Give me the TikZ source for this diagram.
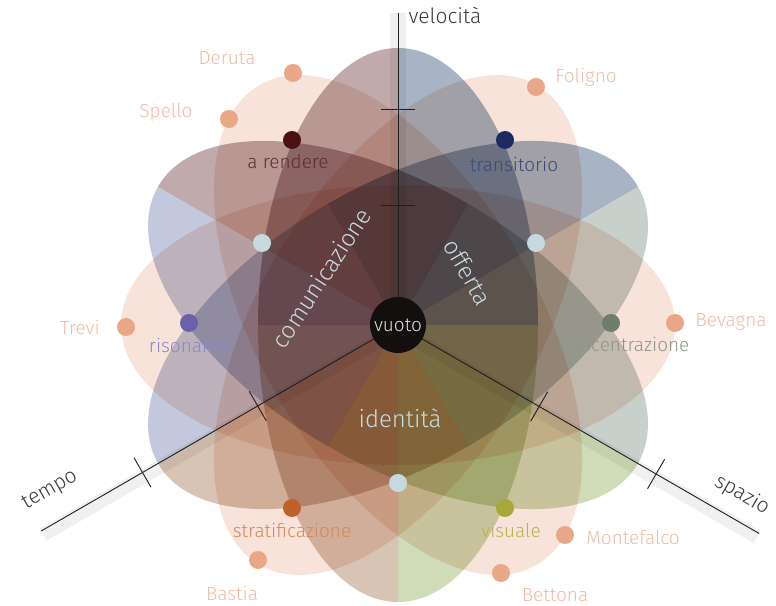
\documentclass[tikz,border=0pt]{standalone}
\usepackage{fontspec}
\setmainfont{Fira Sans}[UprightFont={* Light}]
\usetikzlibrary{calc}
\definecolor{cRend}{HTML}{C0AAAC}
\definecolor{cTrans}{HTML}{A8B4C4}
\definecolor{cRis}{HTML}{C4C8DC}
\definecolor{cConc}{HTML}{C8D0CC}
\definecolor{cStrat}{HTML}{D8C4B4}
\definecolor{cVis}{HTML}{D0DCB8}
\definecolor{cPeach}{HTML}{F7E3DA}
\definecolor{dRendC}{HTML}{4A1212}
\definecolor{dTransC}{HTML}{1C2C62}
\definecolor{dRisC}{HTML}{6A62A8}
\definecolor{dConcC}{HTML}{707C6C}
\definecolor{dStratC}{HTML}{C0602C}
\definecolor{dVisC}{HTML}{A8A838}
\definecolor{dTownC}{HTML}{E8A888}
\definecolor{dLbC}{HTML}{C4DADE}
\definecolor{tTown}{HTML}{F0BAA4}
\definecolor{tBig}{HTML}{C8DCDF}
\definecolor{tAx}{HTML}{3A3A3A}
\definecolor{tRend}{HTML}{5E2E30}
\definecolor{tTrans}{HTML}{3A4A7C}
\definecolor{tRis}{HTML}{8D88C4}
\definecolor{tConc}{HTML}{8E968C}
\definecolor{tStrat}{HTML}{D4895A}
\definecolor{tVis}{HTML}{B8B448}
\definecolor{cAxis}{HTML}{1E1E1E}
\definecolor{cVuoto}{HTML}{140F0F}
\newcommand\qtr[3]{%
  \begin{scope}[shift={(C)},rotate=#1]
    \fill[#3] (0,0) -- ({277*cos(90*#2)},{140*sin(90*#2)})
      arc[start angle={90*#2},end angle={90*#2+90},x radius=277pt,y radius=140pt] -- cycle;
  \end{scope}}
\begin{document}
\begin{tikzpicture}[x=1pt,y=1pt,
  dot/.style={circle,inner sep=0pt,minimum size=18pt},
  town/.style={text=tTown,font=\fontsize{19}{19}\selectfont},
  lab/.style={font=\fontsize{19}{19}\selectfont},
  bigtxt/.style={text=tBig,font=\fontsize{24}{24}\selectfont},
  axtxt/.style={text=tAx,font=\fontsize{21}{21}\selectfont},
  axisline/.style={draw=cAxis,line width=0.9pt},
  band/.style={fill=black,fill opacity=0.06},
  ticksty/.style={draw=cAxis,line width=0.9pt}]
\useasboundingbox (0,0) rectangle (776,605);
\coordinate (C) at (398,280);
\begin{scope}[blend mode=multiply]
% peach ellipses
\foreach \a in {0,60,120}{
  \begin{scope}[shift={(C)},rotate=\a]
    \fill[cPeach] (0,0) ellipse [x radius=277pt,y radius=140pt];
  \end{scope}}
% coloured quarter ellipses
\qtr{90}{0}{cRend}\qtr{90}{1}{cStrat}\qtr{90}{2}{cVis}\qtr{90}{3}{cTrans}
\qtr{30}{0}{cTrans}\qtr{30}{1}{cRis}\qtr{30}{2}{cStrat}\qtr{30}{3}{cConc}
\qtr{150}{0}{cRis}\qtr{150}{1}{cVis}\qtr{150}{2}{cConc}\qtr{150}{3}{cRend}
\end{scope}
% axes
\coordinate (vEnd) at ($(C)+(90:312)$);
\coordinate (tEnd) at ($(C)+(210:412)$);
\coordinate (sEnd) at ($(C)+(-30:417)$);
\begin{scope}[shift={(C)},rotate=90]
  \fill[band] (0,-8) rectangle (312,8);
  \draw[ticksty] (120,-17) -- (120,17);
  \draw[ticksty] (216,-17) -- (216,17);
\end{scope}
\begin{scope}[shift={(C)},rotate=210]
  \fill[band] (0,-3) rectangle (412,11);
  \draw[ticksty] (162,-17) -- (162,17);
  \draw[ticksty] (295,-17) -- (295,17);
\end{scope}
\begin{scope}[shift={(C)},rotate=-30]
  \fill[band] (0,-11) rectangle (417,3);
  \draw[ticksty] (163,-17) -- (163,17);
  \draw[ticksty] (298,-17) -- (298,17);
\end{scope}
\draw[axisline] (C) -- (vEnd);
\draw[axisline] (C) -- (tEnd);
\draw[axisline] (C) -- (sEnd);
% centre
\node[circle,fill=cVuoto,minimum size=56pt,inner sep=0pt,
      text=white!88!black,font=\fontsize{19}{19}\selectfont] (vuoto) at (C) {vuoto};
% big labels
\node[bigtxt,rotate=57] (comu) at (321,327) {comunicazione};
\node[bigtxt,rotate=-60] (off) at (468,333) {offerta};
\node[bigtxt] (ident) at (400,187) {identità};
% axis labels
\node[axtxt] (lvel) at (445,590) {velocità};
\node[axtxt,rotate=30] (ltemp) at (50,115) {tempo};
\node[axtxt,rotate=-30] (lspaz) at (742,110) {spazio};
% category dots
\node[dot,fill=dRendC] (dRend) at (292,465) {};
\node[dot,fill=dTransC] (dTrans) at (505,465) {};
\node[dot,fill=dRisC] (dRis) at (189,282) {};
\node[dot,fill=dConcC] (dConc) at (611,282) {};
\node[dot,fill=dStratC] (dStrat) at (292,97) {};
\node[dot,fill=dVisC] (dVis) at (505,97) {};
\node[dot,fill=dLbC] (lb1) at (262,362) {};
\node[dot,fill=dLbC] (lb2) at (536,362) {};
\node[dot,fill=dLbC] (lb3) at (398,122) {};
\node[lab,text=tRend] (tRendN) at (288,443) {a rendere};
\node[lab,text=tTrans] (tTransN) at (514,441) {transitorio};
\node[lab,text=tRis] (tRisN) at (190,260) {risonanza};
\node[lab,text=tConc] (tConcN) at (625,261) {concentrazione};
\node[lab,text=tStrat] (tStratN) at (292,75) {stratificazione};
\node[lab,text=tVis] (tVisN) at (511,75) {visuale};
% towns
\node[dot,fill=dTownC] (pDer) at (293,532) {};
\node[dot,fill=dTownC] (pSpe) at (229,486) {};
\node[dot,fill=dTownC] (pFol) at (536,518) {};
\node[dot,fill=dTownC] (pBev) at (675,282) {};
\node[dot,fill=dTownC] (pTre) at (126,278) {};
\node[dot,fill=dTownC] (pBas) at (258,45) {};
\node[dot,fill=dTownC] (pMon) at (565,70) {};
\node[dot,fill=dTownC] (pBet) at (501,32) {};
\node[town] (nDer) at (227,547) {Deruta};
\node[town] (nSpe) at (166,493) {Spello};
\node[town] (nFol) at (586,528) {Foligno};
\node[town] (nBev) at (731,283) {Bevagna};
\node[town] (nTre) at (80,278) {Trevi};
\node[town] (nBas) at (232,12) {Bastia};
\node[town] (nMon) at (633,67) {Montefalco};
\node[town] (nBet) at (555,10) {Bettona};
\end{tikzpicture}
\end{document}
